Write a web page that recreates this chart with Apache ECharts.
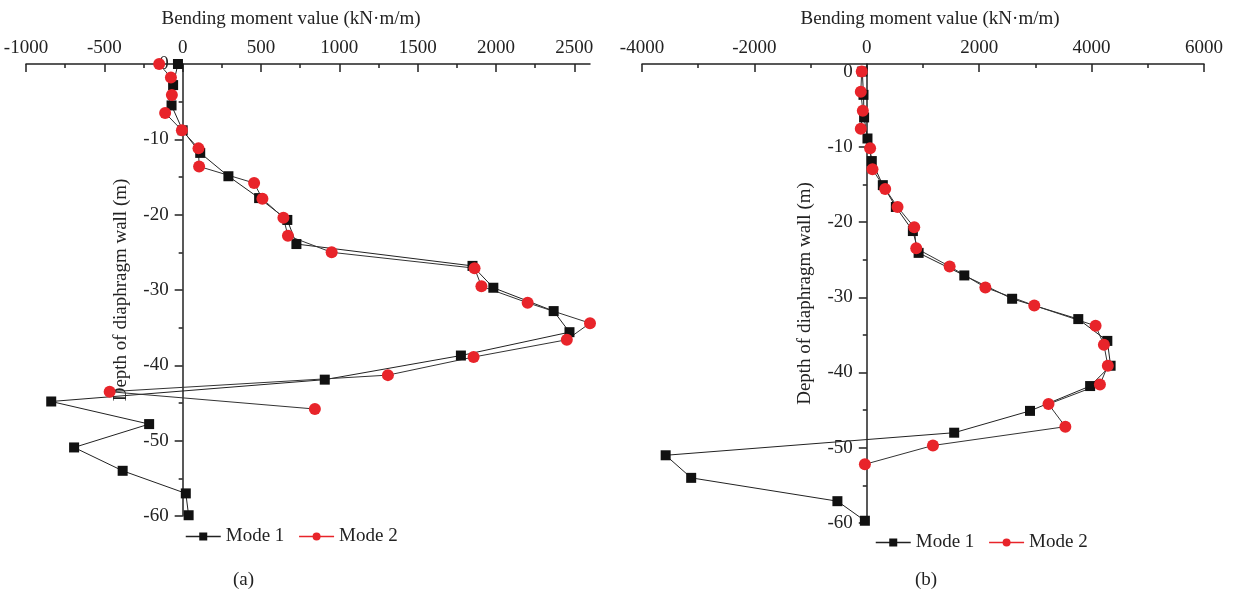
<!DOCTYPE html>
<html>
<head>
<meta charset="utf-8">
<script src="https://cdn.jsdelivr.net/npm/echarts@6/dist/echarts.min.js"></script>
<style>
html,body{margin:0;padding:0;background:#fff;}
#chart{width:1235px;height:593px;}
</style>
</head>
<body>
<div id="chart"></div>
<script>
// ---- Data (a) ----
const depthA1  = [0, -2.8, -5.5, -8.8, -11.8, -14.9, -17.8, -20.7, -23.9, -26.8, -29.7, -32.8, -35.6, -38.7, -41.9, -44.8, -47.8, -50.9, -54.0, -57.0, -59.9];
const momentA1 = [-30, -61, -71, 0, 112, 292, 488, 668, 726, 1850, 1983, 2368, 2469, 1776, 907, -839, -214, -693, -383, 20, 38];
const depthA2  = [0, -1.8, -4.1, -6.5, -8.8, -11.2, -13.6, -15.8, -17.9, -20.4, -22.8, -25.0, -27.1, -29.5, -31.7, -34.4, -36.6, -38.9, -41.3, -43.5, -45.8];
const momentA2 = [-150, -75, -69, -112, -5, 101, 105, 456, 509, 643, 672, 951, 1863, 1907, 2202, 2600, 2452, 1857, 1310, -466, 844];
// ---- Data (b) ----
const depthB1  = [0, -3.1, -6.1, -8.9, -11.9, -15.1, -18.0, -21.2, -24.1, -27.1, -30.2, -32.9, -35.8, -39.1, -41.8, -45.1, -48.0, -51.0, -54.0, -57.1, -59.7];
const momentB1 = [-80, -59, -48, 12, 89, 285, 517, 820, 922, 1735, 2586, 3763, 4280, 4338, 3974, 2904, 1555, -3579, -3125, -523, -34];
const depthB2  = [0, -2.7, -5.2, -7.6, -10.2, -13.0, -15.6, -18.0, -20.7, -23.5, -25.9, -28.7, -31.1, -33.8, -36.3, -39.1, -41.6, -44.2, -47.2, -49.7, -52.2];
const momentB2 = [-90, -107, -71, -107, 59, 101, 327, 547, 844, 880, 1474, 2110, 2980, 4071, 4219, 4289, 4148, 3233, 3533, 1177, -34];
// ---- Axis ranges & labels ----
const xRangeA = [-1000, 2600], xStepA = 500;
const xTicksA = [-1000, -500, 0, 500, 1000, 1500, 2000, 2500];
const xRangeB = [-4000, 6000], xStepB = 2000;
const xTicksB = [-4000, -2000, 0, 2000, 4000, 6000];
const yRangeA = [-60, 0], yRangeB = [-60, 1], yStep = 10;
const yTicks = [-60, -50, -40, -30, -20, -10, 0];
const xName = 'Bending moment value (kN·m/m)';
const yName = 'Depth of diaphragm wall (m)';
const seriesNames = ['Mode 1', 'Mode 2'];
const panelLabels = ['(a)', '(b)'];

const FONT = 'Liberation Serif';
const INK = '#222';
const RED = '#e8242a';
const zip = (xs, ys) => xs.map((x, i) => [x, ys[i]]);
const plain = v => String(Math.round(v));

const grids = [
  {left: 26, top: 64, width: 564, height: 452},
  {left: 642, top: 64, width: 562, height: 459}
];
// inward shift of y axis so it sits at x = 0 of its grid
const zeroShift = (g, r) => g.width * (0 - r[0]) / (r[1] - r[0]);

function xAxisCfg(grid, r, interval, ticks, namePad) {
  return {
    type: 'value', gridIndex: grid, position: 'top', min: r[0], max: r[1], interval: interval,
    name: xName, nameLocation: 'middle', nameGap: 35,
    nameTextStyle: {fontFamily: FONT, fontSize: 19, color: INK, padding: namePad},
    axisLine: {onZero: false, lineStyle: {color: INK, width: 1.5}},
    axisTick: {inside: true, length: 8, customValues: ticks, lineStyle: {color: INK, width: 1.5}},
    minorTick: {show: true, splitNumber: 2, length: 4, lineStyle: {color: INK, width: 1.5}},
    axisLabel: {fontFamily: FONT, fontSize: 19, color: INK, margin: 6, customValues: ticks, formatter: plain},
    splitLine: {show: false}
  };
}
function yAxisCfg(grid, r, shift) {
  return {
    type: 'value', gridIndex: grid, position: 'left', offset: -shift,
    min: r[0], max: r[1], interval: yStep,
    name: yName, nameLocation: 'middle', nameGap: 52,
    nameTextStyle: {fontFamily: FONT, fontSize: 19, color: INK},
    axisLine: {onZero: false, lineStyle: {color: INK, width: 1.5}},
    axisTick: {inside: false, length: 8, customValues: yTicks, lineStyle: {color: INK, width: 1.5}},
    minorTick: {show: true, splitNumber: 2, length: 4, lineStyle: {color: INK, width: 1.5}},
    axisLabel: {fontFamily: FONT, fontSize: 19, color: INK, margin: 14, customValues: yTicks, formatter: plain},
    splitLine: {show: false}
  };
}
function mode1(xi, data) {
  return {name: seriesNames[0], type: 'line', xAxisIndex: xi, yAxisIndex: xi, data: data,
    symbol: 'rect', symbolSize: 10, clip: false, animation: false,
    lineStyle: {color: INK, width: 1}, itemStyle: {color: '#111'}};
}
function mode2(xi, data) {
  return {name: seriesNames[1], type: 'line', xAxisIndex: xi, yAxisIndex: xi, data: data,
    symbol: 'circle', symbolSize: 12, clip: false, animation: false,
    lineStyle: {color: '#333', width: 1}, itemStyle: {color: RED}};
}
function legendCfg(left, top) {
  return {
    left: left, top: top, itemWidth: 35, itemHeight: 10, itemGap: 14,
    textStyle: {fontFamily: FONT, fontSize: 19, color: INK},
    data: [
      {name: seriesNames[0], lineStyle: {color: INK, width: 1.5}},
      {name: seriesNames[1], lineStyle: {color: RED, width: 1.5}, itemStyle: {color: RED}}
    ]
  };
}

const chart = echarts.init(document.getElementById('chart'), null, {renderer: 'canvas'});
chart.setOption({
  backgroundColor: '#fff',
  animation: false,
  title: [
    {text: panelLabels[0], left: 228, top: 566, textStyle: {fontFamily: FONT, fontSize: 19, fontWeight: 'normal', color: INK}},
    {text: panelLabels[1], left: 910, top: 566, textStyle: {fontFamily: FONT, fontSize: 19, fontWeight: 'normal', color: INK}}
  ],
  grid: grids.map(g => Object.assign({containLabel: false, outerBoundsMode: 'none'}, g)),
  xAxis: [
    xAxisCfg(0, xRangeA, xStepA, xTicksA, [0, 34, 0, 0]),
    xAxisCfg(1, xRangeB, xStepB, xTicksB, [0, 0, 0, 14])
  ],
  yAxis: [
    yAxisCfg(0, yRangeA, zeroShift(grids[0], xRangeA)),
    yAxisCfg(1, yRangeB, zeroShift(grids[1], xRangeB))
  ],
  legend: [legendCfg(180, 522), legendCfg(870, 528)],
  series: [
    mode1(0, zip(momentA1, depthA1)),
    mode2(0, zip(momentA2, depthA2)),
    mode1(1, zip(momentB1, depthB1)),
    mode2(1, zip(momentB2, depthB2))
  ]
});
</script>
</body>
</html>
